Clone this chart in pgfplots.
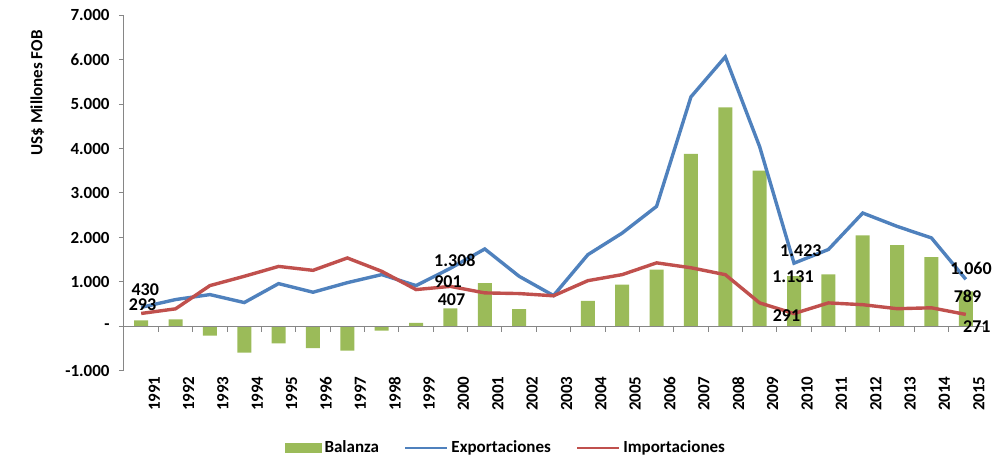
\documentclass[border=0pt]{standalone}
\usepackage{fontspec}
\setmainfont{Carlito}
\usepackage{pgfplots}
\usepackage{pgfplotstable}
\pgfplotsset{compat=1.18}
\definecolor{cgreen}{RGB}{155,187,89}
\definecolor{cblue}{RGB}{79,129,189}
\definecolor{cred}{RGB}{192,80,77}
\definecolor{axgray}{RGB}{134,134,134}

\pgfplotstableread{
x bal exp imp
0 137 430 293
1 160 605 397
2 -205 717 919
3 -590 538 1128
4 -380 964 1350
5 -485 770 1262
6 -545 985 1540
7 -95 1166 1240
8 80 919 830
9 407 1308 901
10 975 1742 755
11 390 1128 740
12 10 695 690
13 575 1614 1030
14 940 2100 1166
15 1278 2700 1430
16 3880 5160 1320
17 4925 6060 1165
18 3505 4040 530
19 1131 1423 291
20 1170 1730 530
21 2050 2550 490
22 1830 2250 400
23 1560 1990 420
24 789 1060 271
}\data

\begin{document}
\begin{tikzpicture}[font=\bfseries\fontsize{8.5}{10}\selectfont]
\begin{axis}[
  scale only axis, width=429.5pt, height=178pt,
  at={(0,0)}, anchor=south west,
  xmin=-0.5, xmax=24.5, ymin=-1000, ymax=7000,
  clip=false,
  separate axis lines,
  axis x line*=bottom, axis y line*=left,
  x axis line style={draw=none},
  y axis line style={draw=axgray, line width=0.5pt},
  xtick={0,...,24},
  xticklabels={1991,1992,1993,1994,1995,1996,1997,1998,1999,2000,2001,2002,2003,2004,2005,2006,2007,2008,2009,2010,2011,2012,2013,2014,2015},
  x tick style={draw=none},
  xticklabel style={rotate=90, anchor=east, inner sep=0pt, yshift=-6.5pt, font=\bfseries\fontsize{8.5}{10}\selectfont},
  ytick={-1000,0,1000,2000,3000,4000,5000,6000,7000},
  yticklabels={-1.000,-,1.000,2.000,3.000,4.000,5.000,6.000,7.000},
  y tick style={draw=axgray, line width=0.5pt},
  tick align=outside, major tick length=2.5pt,
  yticklabel style={anchor=east, inner sep=0pt, xshift=-4.5pt, font=\bfseries\fontsize{8.5}{10}\selectfont},
  ylabel={US\$ Millones FOB},
  ylabel style={at={(axis description cs:-0.101,0.781)}, anchor=center, font=\bfseries\fontsize{8.5}{10}\selectfont},
  legend columns=3,
  legend style={draw=none, fill=none, at={(axis description cs:0.445,-0.216)}, anchor=center,
    font=\bfseries\fontsize{8.5}{10}\selectfont,
    /tikz/every even column/.append style={column sep=11pt},
    /tikz/every odd column/.append style={column sep=0pt},
    nodes={inner sep=1.5pt}},
]
\addplot[ybar, bar width=7pt, bar shift=0pt, fill=cgreen, draw=none,
  legend image code/.code={\fill[cgreen] (0pt,-2.5pt) rectangle (18.5pt,2.5pt);}]
  table[x=x, y=bal] {\data};
\addlegendentry{Balanza}
\addplot[cblue, line width=1.7pt, no markers,
  legend image code/.code={\draw[cblue, line width=1.2pt] (0pt,0pt) -- (21pt,0pt);}]
  table[x=x, y=exp] {\data};
\addlegendentry{Exportaciones}
\addplot[cred, line width=1.7pt, no markers,
  legend image code/.code={\draw[cred, line width=1.2pt] (0pt,0pt) -- (21pt,0pt);}]
  table[x=x, y=imp] {\data};
\addlegendentry{Importaciones}

\draw[axgray, line width=0.5pt] (axis cs:-0.5,0) -- (axis cs:24.5,0);
\pgfplotsinvokeforeach{0.5,1.5,2.5,3.5,4.5,5.5,6.5,7.5,8.5,9.5,10.5,11.5,12.5,13.5,14.5,15.5,16.5,17.5,18.5,19.5,20.5,21.5,22.5,23.5,24.5}{
  \draw[axgray, line width=0.5pt] (axis cs:#1,0) -- ++(0pt,-3pt);
}

\begin{scope}[every node/.style={font=\bfseries\fontsize{9}{10}\selectfont, inner sep=0pt}]
\node at (axis cs:0.12,830) {430};
\node at (axis cs:0.04,490) {293};
\node at (axis cs:9.13,1480) {1.308};
\node at (axis cs:8.93,998) {901};
\node at (axis cs:9.03,594) {407};
\node at (axis cs:19.2,1704) {1.423};
\node at (axis cs:18.97,1110) {1.131};
\node at (axis cs:18.78,247) {291};
\node at (axis cs:24.15,1300) {1.060};
\node at (axis cs:24.05,673) {789};
\node at (axis cs:24.32,-11) {271};
\end{scope}
\end{axis}
\path[use as bounding box] (-62pt,-44.5pt) rectangle (438pt,185.5pt);
\end{tikzpicture}
\end{document}
